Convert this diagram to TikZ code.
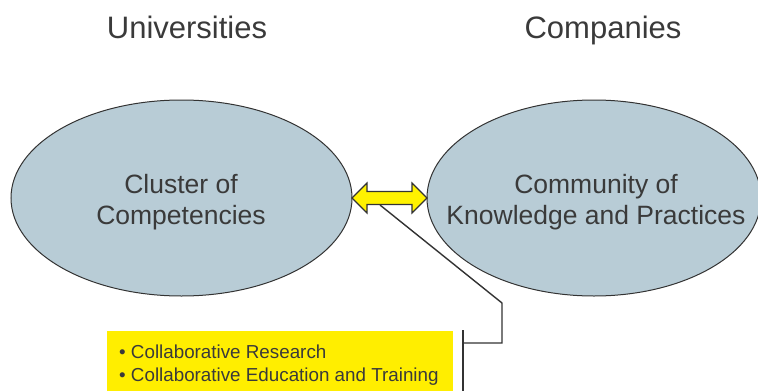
\documentclass[tikz,border=0pt]{standalone}
\usepackage{fontspec}
\setmainfont{Liberation Sans}
\usetikzlibrary{shapes.geometric}
\definecolor{txt}{HTML}{3A3A3A}
\definecolor{ellfill}{HTML}{B8CCD6}
\definecolor{ylw}{HTML}{FFEE00}
\definecolor{arrowylw}{HTML}{FFF200}
\definecolor{linec}{HTML}{333333}
\tikzset{
  title/.style={font=\fontsize{31}{36}\selectfont, text=txt, anchor=base, inner sep=0pt},
  blob/.style={ellipse, draw=linec, line width=1pt, fill=ellfill, inner sep=0pt},
  blobtext/.style={font=\fontsize{26.5}{31}\selectfont, text=txt, align=center, inner sep=0pt},
  conn/.style={draw=linec, line width=1.4pt},
  boxtext/.style={font=\fontsize{18.8}{23}\selectfont, text=txt, align=left, inner sep=0pt, anchor=north west}
}
\begin{document}
\begin{tikzpicture}[x=1pt,y=-1pt]
\useasboundingbox (0,0) rectangle (758,391);
% titles
\node[title] (univ) at (187,38) {Universities};
\node[title] (comp) at (603,38) {Companies};
% ellipses
\node[blob, minimum width=341pt, minimum height=196pt] (left) at (181.5,198) {};
\node[blob, minimum width=334pt, minimum height=196pt] (right) at (594,198) {};
\node[blobtext] (lt) at (181,202) {Cluster of\\Competencies};
\node[blobtext] (rt) at (596,202) {Community of\\Knowledge and Practices};
% double arrow
\draw[draw=linec, line width=1.1pt, fill=arrowylw, line join=miter]
  (352,198) -- (367,183) -- (367,191.5) -- (412,191.5) -- (412,183) -- (427,198)
  -- (412,213) -- (412,204.5) -- (367,204.5) -- (367,213) -- cycle;
\coordinate (src) at (380,205);
% yellow box
\fill[ylw] (107,331) rectangle (453,391);
\node[boxtext] (bt) at (119,344.5) {\textbullet\ Collaborative Research\\\textbullet\ Collaborative Education and Training};
% bracket
\coordinate (btop) at (463,330);
\coordinate (bbot) at (463,392);
\coordinate (bmid) at (463,343);
\coordinate (c1) at (502,303);
\coordinate (c2) at (502,343);
\draw[conn] (btop) -- (bbot);
\draw[conn, line join=miter] (src) -- (c1) -- (c2) -- (bmid);
\end{tikzpicture}
\end{document}
